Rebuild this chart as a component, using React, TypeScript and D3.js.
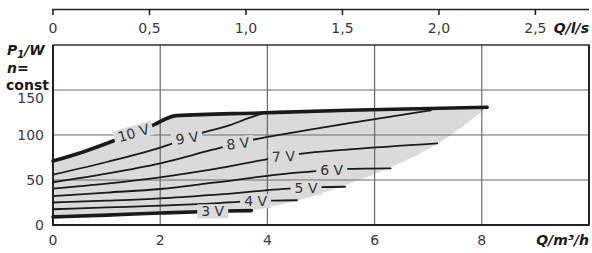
import React from 'react';
import * as d3 from 'd3';

// flow ticks (m3/h bottom, l/s top) and power ticks
const qTicks = [0, 2, 4, 6, 8];
const qLsTicks = [0, 0.5, 1, 1.5, 2, 2.5];
const pTicks = [0, 50, 100, 150];

// power curves P1 [W] over Q [m3/h]
const curve10V = [[0, 71], [0.6, 82], [1.15, 94], [1.83, 110], [2.3, 121.5], [3.85, 124.5], [5.5, 127.5], [8.1, 130.8]];
const curve9V = [[0, 56], [1, 70], [2, 86], [2.76, 102], [3.3, 111], [3.66, 119], [3.9, 123.8]];
const curve8V = [[0, 47.5], [1, 57], [2, 68.5], [3, 84], [3.75, 95], [4.6, 104], [5.5, 113], [6.3, 120.5], [7.05, 127.5]];
const curve7V = [[0, 40.5], [1, 46], [2, 53], [3, 62], [4.03, 73.5], [4.6, 79], [5.53, 84], [7.17, 90.8]];
const curve6V = [[0, 32], [1, 36], [2, 40], [3, 47], [4.4, 57.4], [4.93, 60], [5.47, 62.3], [6.3, 63]];
const curve5V = [[0, 25], [1, 27], [2, 29.5], [3, 33.5], [4.47, 40.7], [4.97, 42], [5.45, 42.5]];
const curve4V = [[0, 17.5], [1, 19.5], [2, 21.5], [3, 24], [3.44, 25.8], [4.1, 27], [4.55, 27.5]];
const curve3V = [[0, 9], [1, 11], [2, 13.3], [2.73, 14.8], [3.25, 15.5], [3.7, 16]];

// right-hand limit of the operating field (through the curve ends)
const envelope = [[8.1, 130.8], [7.2, 91], [6.27, 63.3], [5.43, 44], [4.6, 27.8], [3.7, 16]];

const speedNames = ['10 V', '9 V', '8 V', '7 V', '6 V', '5 V', '4 V', '3 V'];
const speedCurves = [curve10V, curve9V, curve8V, curve7V, curve6V, curve5V, curve4V, curve3V];
const labelQ = [1.5, 2.5, 3.45, 4.3, 5.2, 4.72, 3.78, 2.98];
const labelAngle = [-16, -9, -6, -3, 0, 0, 0, 0];

const W = 592;
const H = 253;
const font = '"DejaVu Sans", sans-serif';
const shade = '#dadada';

function valueAt(pts: number[][], q: number) {
  for (let i = 1; i < pts.length; i++) {
    if (q <= pts[i][0]) {
      const [x0, y0] = pts[i - 1];
      const [x1, y1] = pts[i];
      return y0 + ((q - x0) / (x1 - x0)) * (y1 - y0);
    }
  }
  return pts[pts.length - 1][1];
}

export default function App() {
  const x = d3.scaleLinear().domain([0, 10]).range([53, 589]);
  const xTop = d3.scaleLinear().domain([0, 10 / 3.6]).range([53, 589]);
  const y = d3.scaleLinear().domain([0, 200]).range([225, 45]);

  const line = d3.line<number[]>().x(d => x(d[0])).y(d => y(d[1])).curve(d3.curveMonotoneX);
  const edge = d3.line<number[]>().x(d => x(d[0])).y(d => y(d[1])).curve(d3.curveCatmullRom);

  // shaded field: top = 10 V, right = envelope, bottom = 3 V
  const areaPath =
    line(curve10V)! +
    edge(envelope)!.replace(/^M/, 'L') +
    line([...curve3V].reverse())!.replace(/^M/, 'L') +
    'Z';

  const fmt = (v: number) => (v === 0 ? '0' : d3.format('.1f')(v).replace('.', ','));

  return (
    <svg width={W} height={H} style={{ position: 'absolute', left: 0, top: 0, background: '#fff' }} fontFamily={font}>
      {/* top axis in l/s */}
      <line x1={x(0) - 1} x2={x(10)} y1={9.5} y2={9.5} stroke="#222" strokeWidth={1.6} />
      {qLsTicks.map(t => (
        <g key={t}>
          <line x1={xTop(t)} x2={xTop(t)} y1={9.5} y2={15} stroke="#222" strokeWidth={1.6} />
          <text x={xTop(t)} y={33} textAnchor="middle" fontSize={14} fill="#3a3a3a">{fmt(t)}</text>
        </g>
      ))}
      <text x={589} y={33} textAnchor="end" fontSize={14} fontWeight="bold" fontStyle="italic" fill="#1a1a1a">Q/l/s</text>

      {/* shaded field */}
      <path d={areaPath} fill={shade} stroke="none" />

      {/* grid */}
      {qTicks.filter(t => t > 0).map(t => (
        <line key={'gx' + t} x1={x(t)} x2={x(t)} y1={y(200)} y2={y(0)} stroke="#6a6a6a" strokeWidth={1.2} />
      ))}
      {pTicks.filter(t => t > 0).map(t => (
        <line key={'gy' + t} x1={x(0)} x2={x(10)} y1={y(t)} y2={y(t)} stroke="#6a6a6a" strokeWidth={1.2} />
      ))}
      <rect x={x(0)} y={y(200)} width={x(10) - x(0)} height={y(0) - y(200)} fill="none" stroke="#222" strokeWidth={1.4} />
      <line x1={x(0)} x2={x(0)} y1={y(200)} y2={y(0) + 1} stroke="#222" strokeWidth={2} />
      <line x1={x(0)} x2={x(10)} y1={y(0)} y2={y(0)} stroke="#222" strokeWidth={2} />
      <line x1={x(10)} x2={x(10)} y1={y(200)} y2={y(0)} stroke="#222" strokeWidth={1.8} />

      {/* speed curves */}
      {speedCurves.map((c, i) => (
        <path
          key={speedNames[i]}
          d={line(c)!}
          fill="none"
          stroke="#1a1a1a"
          strokeWidth={i === 0 || i === speedCurves.length - 1 ? 3.6 : 1.8}
          strokeLinecap="round"
        />
      ))}

      {/* curve labels */}
      {speedNames.map((name, i) => {
        const q = labelQ[i];
        const cx = x(q);
        const cy = y(valueAt(speedCurves[i], q));
        const w = name.length > 3 ? 40 : 31;
        return (
          <g key={'l' + name} transform={`translate(${cx},${cy}) rotate(${labelAngle[i]})`}>
            <rect x={-w / 2} y={-7} width={w} height={14} fill={shade} />
            <text x={0} y={5} textAnchor="middle" fontSize={14} fill="#333">{name}</text>
          </g>
        );
      })}

      {/* y axis */}
      {pTicks.map(t => (
        <text key={'yt' + t} x={44} y={y(t) + 5 + (t === 150 ? 8 : 0)} textAnchor="end" fontSize={14} fill="#3a3a3a">{t}</text>
      ))}
      <text x={7} y={55} fontSize={14} fontWeight="bold" fontStyle="italic" fill="#1a1a1a">
        P<tspan fontSize={10} dy={3}>1</tspan><tspan dy={-3}>/W</tspan>
      </text>
      <text x={7} y={73} fontSize={14} fontWeight="bold" fontStyle="italic" fill="#1a1a1a">n=</text>
      <text x={6} y={90} fontSize={14} fontWeight="bold" fill="#1a1a1a">const</text>

      {/* x axis */}
      {qTicks.map(t => (
        <text key={'xt' + t} x={x(t)} y={245} textAnchor="middle" fontSize={14} fill="#3a3a3a">{t}</text>
      ))}
      <text x={589} y={245} textAnchor="end" fontSize={14} fontWeight="bold" fontStyle="italic" fill="#1a1a1a">Q/m³/h</text>
    </svg>
  );
}
